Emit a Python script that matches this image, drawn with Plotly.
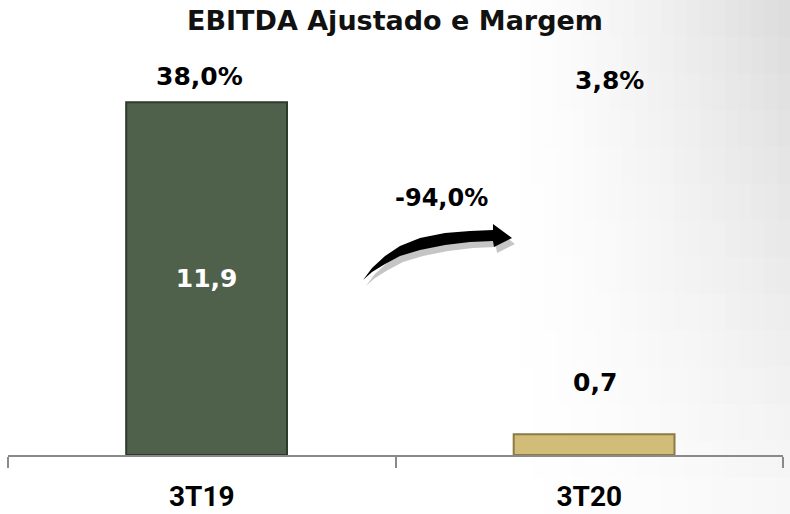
import plotly.graph_objects as go

# dados
periodos = ['3T19', '3T20']
ebitda = [11.9, 0.7]
margem = [38.0, 3.8]
variacao = '-94,0%'

W, H = 790, 514
L, R, T, B = 8, 7, 40, 59
FONT = 'DejaVu Sans, Arial'
TICKFONT = 'Roboto, Arial'


def px(x, y):
    # pixel -> paper
    return (x - L) / (W - L - R), (H - B - y) / (H - T - B)


def path(pts):
    s = ''
    for i, (x, y) in enumerate(pts):
        a, b = px(x, y)
        s += ('M' if i == 0 else 'L') + f'{a:.4f},{b:.4f} '
    return s + 'Z'


def arrow(dx=0, dy=0):
    upper = [(363, 280), (372, 268), (385, 256), (400, 246), (420, 238), (445, 233), (470, 231), (493, 230)]
    head = [(493, 224), (512, 238), (494, 247)]
    lower = [(493, 241), (470, 242), (445, 245), (420, 250), (400, 256), (385, 264), (372, 272)]
    pts = upper + head + lower
    return path([(x + dx, y + dy) for x, y in pts])


fig = go.Figure()
fig.add_trace(go.Bar(
    x=periodos, y=ebitda,
    marker=dict(color=['#4f614b', '#d2bd78'], line=dict(color=['#2e3a2b', '#8c7a45'], width=2)),
    width=0.415, offset=-0.195,
    texttemplate=['%{y:.1f}', ''],
    textposition='inside', insidetextanchor='middle',
    textfont=dict(family=FONT, size=25, color='white', weight='bold'),
    hoverinfo='skip',
))

shapes = []
# fundo degrade no canto superior direito (celulas opacas)
nx, ny = 24, 14
x_start = 480
cw = (W - x_start) / nx
ch = H / ny
for i in range(nx):
    for j in range(ny):
        cx = x_start + (i + 0.5) * cw
        cy = (j + 0.5) * ch
        fx = max(0.0, (cx - 500) / 290) ** 1.4
        fy = 1 - 0.8 * (cy / H)
        g = round(255 - 36 * fx * fy)
        if g >= 255:
            continue
        a, b0 = px(x_start + i * cw, (j + 1) * ch + 1)
        c, b1 = px(x_start + (i + 1) * cw + 1, j * ch)
        shapes.append(dict(type='rect', xref='paper', yref='paper', x0=a, x1=c, y0=b0, y1=b1,
                           fillcolor=f'rgb({g},{g},{g})', line=dict(width=0), layer='below'))
shapes.append(dict(type='path', xref='paper', yref='paper', path=arrow(3, 6), fillcolor='rgba(150,150,150,0.55)', line=dict(width=0)))
shapes.append(dict(type='path', xref='paper', yref='paper', path=arrow(), fillcolor='black', line=dict(width=0)))

anns = []
shift = [-2, 20]
ypos = [76, 80]
for i, p in enumerate(periodos):
    anns.append(dict(x=p, xref='x', y=px(0, ypos[i])[1], yref='paper', yanchor='middle',
                     text=f'{margem[i]:.1f}%'.replace('.', ','),
                     showarrow=False, xshift=shift[i], font=dict(family=FONT, size=25, color='black', weight='bold')))
anns.append(dict(x=periodos[1], y=ebitda[1], text=f'{ebitda[1]:.1f}'.replace('.', ','), showarrow=False,
                 yanchor='middle', yshift=52, xshift=6,
                 font=dict(family=FONT, size=25, color='black', weight='bold')))
anns.append(dict(x=px(441, 0)[0], xref='paper', y=px(0, 198)[1], yref='paper', yanchor='middle', text=variacao,
                 showarrow=False, font=dict(family=FONT, size=24, color='black', weight='bold')))

fig.update_layout(
    width=W, height=H,
    margin=dict(l=L, r=R, t=T, b=B, autoexpand=False),
    paper_bgcolor='white', plot_bgcolor='rgba(0,0,0,0)',
    separators=',.',
    showlegend=False,
    title=dict(text='EBITDA Ajustado e Margem', x=0.5, xanchor='center', y=1 - 21 / H, yanchor='middle',
               font=dict(family=FONT, size=27, color='#111', weight='bold')),
    xaxis=dict(range=[-0.5, 1.5], showline=True, linecolor='#8a8a8a', linewidth=1.5, ticks='outside',
               tickson='boundaries', ticklen=11, tickcolor='#8a8a8a', tickwidth=1.5, showgrid=False,
               automargin=False,
               tickfont=dict(family=TICKFONT, size=28, color='black', weight='bold'), ticklabelstandoff=16),
    yaxis=dict(range=[0, 14], visible=False, showgrid=False, zeroline=False, automargin=False),
    shapes=shapes,
    annotations=anns,
)

fig.write_html('out.html', config={'displayModeBar': False}, post_script="document.body.style.margin='0';")
